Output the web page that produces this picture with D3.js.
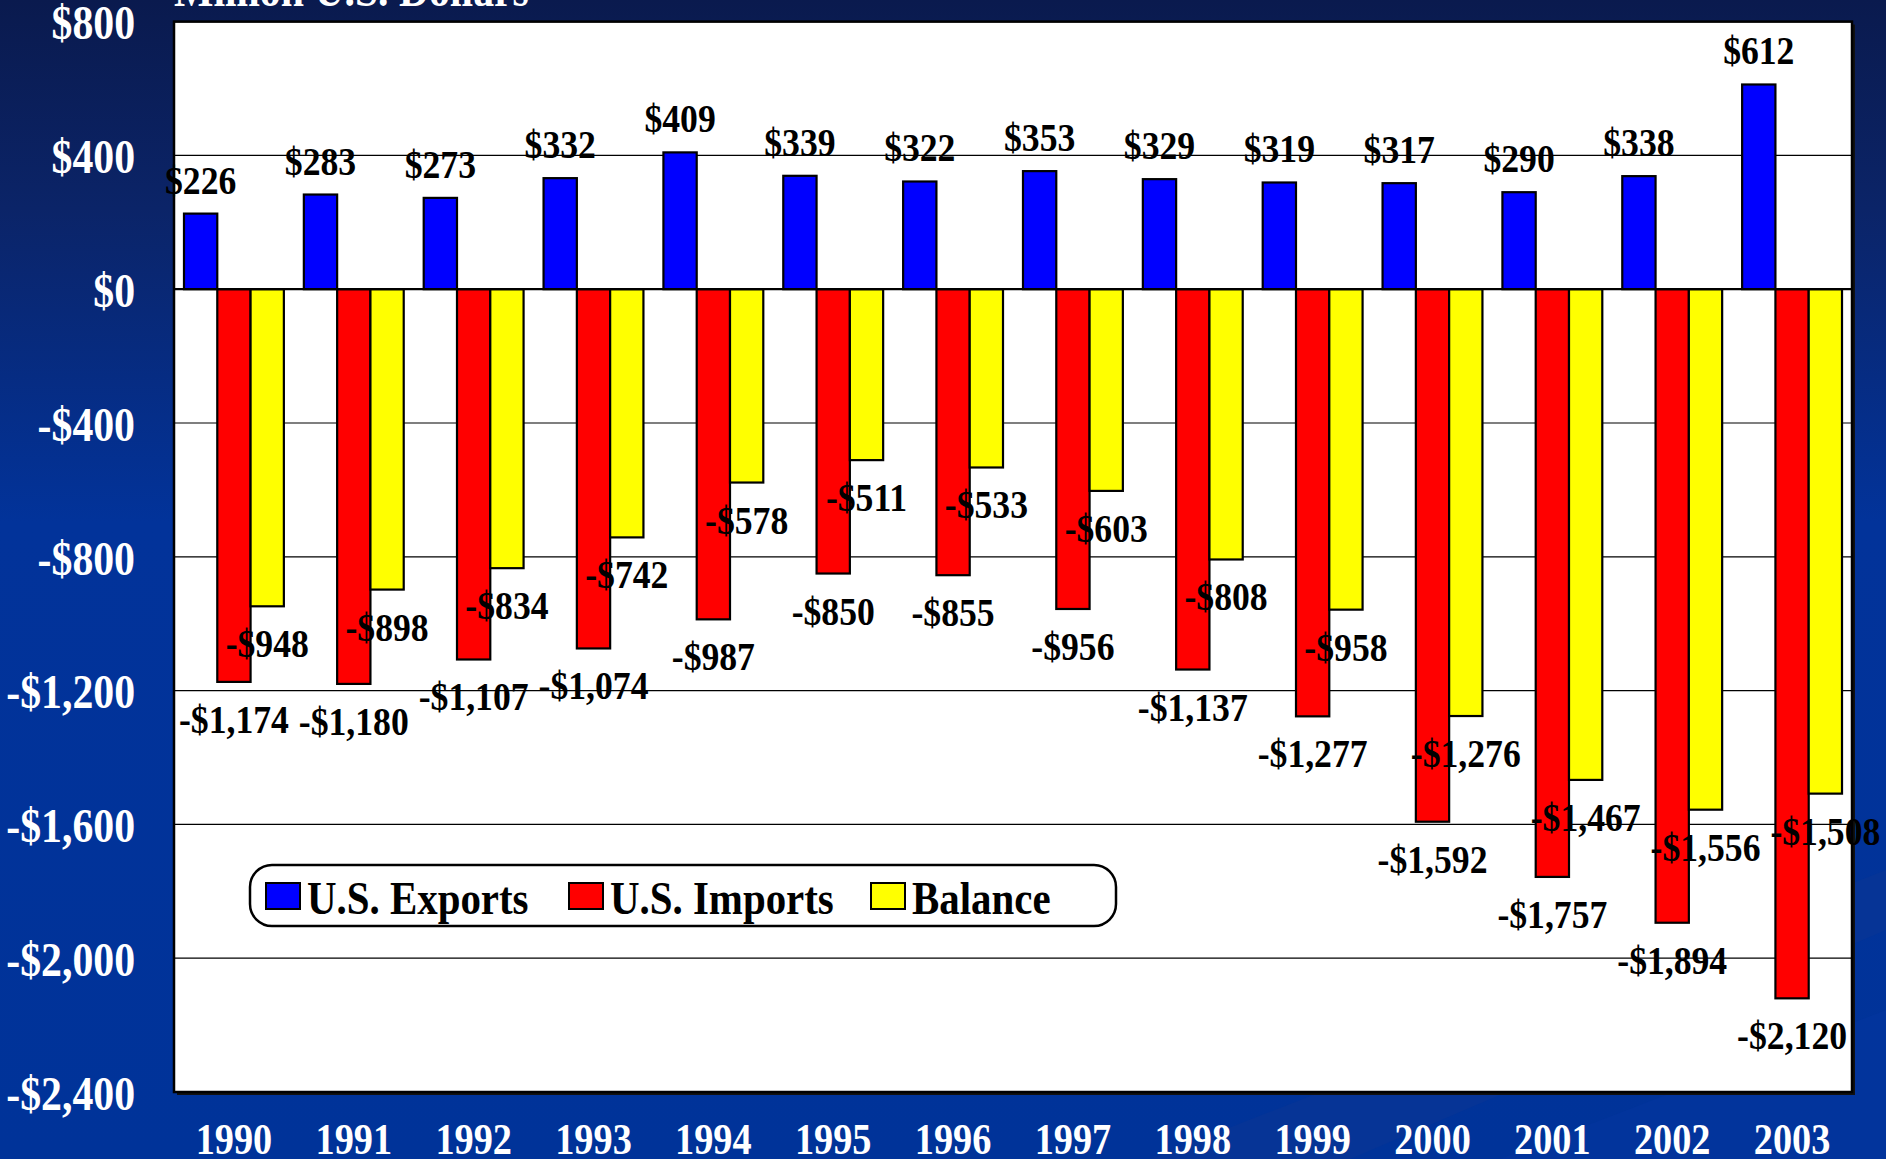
<!DOCTYPE html>
<html>
<head>
<meta charset="utf-8">
<script src="https://cdn.jsdelivr.net/npm/d3@7"></script>
<style>
  html, body { margin: 0; padding: 0; background: #003399; }
  svg { display: block; }
</style>
</head>
<body>
<svg id="chart" width="1886" height="1159"></svg>
<script>
// ---- DATA ----
const years = ["1990","1991","1992","1993","1994","1995","1996","1997","1998","1999","2000","2001","2002","2003"];
const exportsVals = [226, 283, 273, 332, 409, 339, 322, 353, 329, 319, 317, 290, 338, 612];
const importsVals = [-1174, -1180, -1107, -1074, -987, -850, -855, -956, -1137, -1277, -1592, -1757, -1894, -2120];
const balanceVals = [-948, -898, -834, -742, -578, -511, -533, -603, -808, -958, -1276, -1467, -1556, -1508];
const seriesNames = ["U.S. Exports", "U.S. Imports", "Balance"];
const seriesColors = ["#0000ff", "#ff0000", "#ffff00"];
const yTicks = [800, 400, 0, -400, -800, -1200, -1600, -2000, -2400];
const unitLabel = "Million U.S. Dollars";

// ---- LAYOUT ----
const W = 1886, H = 1159;
const plot = { left: 174, right: 1852, top: 21.6, bottom: 1092 };
const FONT = "'Liberation Serif', 'Times New Roman', Times, serif";
const SX = 0.87; // horizontal condensing of text, as in the reference

const svg = d3.select("#chart");
const defs = svg.append("defs");
const bg = defs.append("linearGradient").attr("id", "bg").attr("x1", 0).attr("y1", 0).attr("x2", 0).attr("y2", 1);
bg.append("stop").attr("offset", "0").attr("stop-color", "#0a1a4e");
bg.append("stop").attr("offset", "0.18").attr("stop-color", "#0b2468");
bg.append("stop").attr("offset", "0.45").attr("stop-color", "#02339a");
bg.append("stop").attr("offset", "1").attr("stop-color", "#003399");

svg.append("rect").attr("width", W).attr("height", H).attr("fill", "url(#bg)");
// subtle diagonal streaks in background (bottom-right)
svg.append("path").attr("d", "M1150,1159 L1886,870 L1886,930 L1350,1159 Z").attr("fill", "#0a3694").attr("opacity", 0.6);
svg.append("path").attr("d", "M1500,1159 L1886,1010 L1886,1159 Z").attr("fill", "#0336a0").attr("opacity", 0.5);

// unit title (partially cut off at top, as in the reference)
svg.append("text").attr("transform", `translate(${plot.left},6) scale(${SX},1)`)
  .attr("fill", "#fff").attr("font-family", FONT).attr("font-weight", "bold").attr("font-size", 48)
  .text(unitLabel);

// scales
const x0 = d3.scaleBand().domain(years).range([plot.left, plot.right]).paddingInner(0).paddingOuter(0);
const barW = x0.bandwidth() / 3.6;
const y = d3.scaleLinear().domain([-2400, 800]).range([plot.bottom, plot.top]);

// plot area shadow + background
svg.append("rect").attr("x", plot.left + 3).attr("y", plot.top + 3)
  .attr("width", plot.right - plot.left).attr("height", plot.bottom - plot.top).attr("fill", "#111");
svg.append("rect").attr("x", plot.left).attr("y", plot.top)
  .attr("width", plot.right - plot.left).attr("height", plot.bottom - plot.top).attr("fill", "#fff");

// gridlines
svg.append("g").selectAll("line").data(yTicks).join("line")
  .attr("x1", plot.left).attr("x2", plot.right)
  .attr("y1", d => y(d)).attr("y2", d => y(d))
  .attr("stroke", "#000").attr("stroke-width", 1.2);

// bars
const series = [exportsVals, importsVals, balanceVals];
const barsG = svg.append("g");
series.forEach((vals, si) => {
  barsG.append("g").selectAll("rect").data(vals).join("rect")
    .attr("x", (d, i) => x0(years[i]) + 0.3 * barW + si * barW)
    .attr("y", d => Math.min(y(d), y(0)))
    .attr("width", barW)
    .attr("height", d => Math.abs(y(d) - y(0)))
    .attr("fill", seriesColors[si])
    .attr("stroke", "#000").attr("stroke-width", 2.2);
});

// zero line
svg.append("line").attr("x1", plot.left).attr("x2", plot.right)
  .attr("y1", y(0)).attr("y2", y(0)).attr("stroke", "#000").attr("stroke-width", 2.2);

// plot frame
svg.append("rect").attr("x", plot.left).attr("y", plot.top)
  .attr("width", plot.right - plot.left).attr("height", plot.bottom - plot.top)
  .attr("fill", "none").attr("stroke", "#000").attr("stroke-width", 2.5);

// value labels
const fmtMoney = d => (d < 0 ? "-$" : "$") + d3.format(",")(Math.abs(d));
const labelsG = svg.append("g").attr("font-family", FONT).attr("font-weight", "bold")
  .attr("font-size", 41).attr("fill", "#000").attr("text-anchor", "middle");
series.forEach((vals, si) => {
  labelsG.append("g").selectAll("text").data(vals).join("text")
    .attr("transform", (d, i) => {
      const cx = x0(years[i]) + 0.3 * barW + si * barW + barW / 2;
      const cy = d >= 0 ? y(d) - 20 : y(d) + 51;
      return `translate(${cx},${cy}) scale(${SX},1)`;
    })
    .text(d => fmtMoney(d));
});

// y axis
const yAxis = d3.axisLeft(y).tickValues(yTicks).tickSize(0).tickPadding(0).tickFormat(fmtMoney);
const yG = svg.append("g").attr("transform", `translate(135,0)`).call(yAxis);
yG.select(".domain").remove();
yG.selectAll("text").attr("fill", "#fff").attr("font-family", FONT).attr("font-weight", "bold")
  .attr("font-size", 48).attr("x", 0).attr("dy", "0.36em").attr("text-anchor", "end")
  .attr("transform", `scale(${SX},1)`);

// x axis (years)
const xAxis = d3.axisBottom(x0).tickSize(0).tickPadding(0);
const xG = svg.append("g").attr("transform", `translate(0,1154)`).call(xAxis);
xG.select(".domain").remove();
xG.selectAll("text").attr("fill", "#fff").attr("font-family", FONT).attr("font-weight", "bold")
  .attr("font-size", 44).attr("y", 0).attr("dy", 0).attr("transform", `scale(${SX},1)`);

// legend
const lg = svg.append("g");
lg.append("rect").attr("x", 250).attr("y", 865).attr("width", 866).attr("height", 61)
  .attr("rx", 22).attr("ry", 22).attr("fill", "#fff").attr("stroke", "#000").attr("stroke-width", 2.5);
const legendSwatchX = [266, 569, 871];
seriesNames.forEach((name, i) => {
  lg.append("rect").attr("x", legendSwatchX[i]).attr("y", 883).attr("width", 34).attr("height", 26)
    .attr("fill", seriesColors[i]).attr("stroke", "#000").attr("stroke-width", 2);
  lg.append("text").attr("transform", `translate(${legendSwatchX[i] + 41},914) scale(${SX},1)`)
    .attr("font-family", FONT).attr("font-weight", "bold").attr("font-size", 47).attr("fill", "#000")
    .text(name);
});
</script>
</body>
</html>
